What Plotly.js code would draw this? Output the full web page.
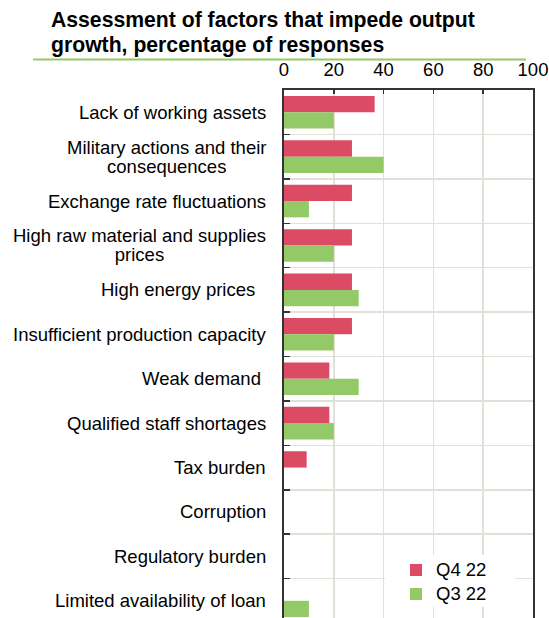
<!DOCTYPE html>
<html>
<head>
<meta charset="utf-8">
<script src="https://cdn.plot.ly/plotly-3.0.1.min.js"></script>
<style>
html,body{margin:0;padding:0;overflow:hidden;background:#fff;}
#chart{width:549px;height:640px;}
</style>
</head>
<body>
<div id="chart"></div>
<script>
// ---- data ----
var categories = [
  "Lack of working assets",
  "Military actions and their<br>consequences",
  "Exchange rate fluctuations",
  "High raw material and supplies<br>prices",
  "High energy prices\u00a0\u00a0",
  "Insufficient production capacity",
  "Weak demand\u00a0",
  "Qualified staff shortages",
  "Tax burden",
  "Corruption",
  "Regulatory burden",
  "Limited availability of loan"
];
var q4Values = [36.4, 27.3, 27.3, 27.3, 27.3, 27.3, 18.2, 18.2, 9.1, 0, 0, 0];
var q3Values = [20, 40, 10, 20, 30, 20, 30, 20, 0, 0, 0, 10];
var seriesNames = ["Q4 22", "Q3 22"];
var xTicks = [0, 20, 40, 60, 80, 100];
var titleLines = ["Assessment of factors that impede output", "growth, percentage of responses"];

// ---- style ----
var FONT = "Liberation Sans, Arial, sans-serif";
var RED = "#dc4b64", GREEN = "#93c966", GRID = "#e1e1d8", AXIS = "#333333";
var LABEL_SIZE = 18.5, LINE_GAP = 19;
var PLOT_TOP = 90, PLOT_BOTTOM = 623, PLOT_H = PLOT_BOTTOM - PLOT_TOP;
function py(px) { return (PLOT_BOTTOM - px) / PLOT_H; }
function px(x) { return (x - 284) / 249; }

function wrapLines(s, size) {
  return s.split("<br>").map(function (l) {
    return "<span style='font-size:" + size + "px'>" + l + "</span>";
  }).join("<br>");
}

var traces = [
  {type: "bar", orientation: "h", name: wrapLines(seriesNames[0], LABEL_SIZE), y: categories, x: q4Values,
   marker: {color: RED}, hoverinfo: "skip"},
  {type: "bar", orientation: "h", name: wrapLines(seriesNames[1], LABEL_SIZE), y: categories, x: q3Values,
   marker: {color: GREEN}, hoverinfo: "skip"}
];

var annotations = categories.map(function (c) {
  return {
    xref: "paper", yref: "y", x: px(268), y: c,
    xanchor: "right", yanchor: "middle", align: "center",
    text: wrapLines(c, LABEL_SIZE), showarrow: false,
    font: {family: FONT, size: LINE_GAP / 1.3, color: "#000"}
  };
});
var titleCenters = [20.1, 45.3];
titleLines.forEach(function (t, i) {
  annotations.push({
    xref: "paper", yref: "paper", x: px(49), y: py(titleCenters[i]),
    xanchor: "left", yanchor: "middle", align: "left",
    text: "<b>" + t + "</b>", showarrow: false,
    font: {family: FONT, size: 21.2, color: "#000"}
  });
});

var layout = {
  width: 549, height: 640,
  margin: {l: 284, r: 16, t: PLOT_TOP, b: 640 - PLOT_BOTTOM},
  paper_bgcolor: "#fff", plot_bgcolor: "#fff",
  font: {family: FONT, size: LABEL_SIZE, color: "#000"},
  barmode: "group", bargap: 0.266, bargroupgap: 0,
  showlegend: true,
  legend: {
    x: px(396), xanchor: "left",
    y: py(553), yanchor: "top",
    bgcolor: "rgba(255,255,255,0)", borderwidth: 0,
    font: {family: FONT, size: 16.16, color: "#000"},
    traceorder: "normal", itemclick: false
  },
  xaxis: {
    side: "top", range: [0, 100], tickvals: xTicks, ticktext: xTicks.map(String),
    showgrid: true, gridcolor: GRID, gridwidth: 1.5,
    showline: true, linecolor: AXIS, linewidth: 2, mirror: true,
    ticks: "inside", ticklen: 4, tickcolor: AXIS, tickwidth: 1.5,
    ticklabelstandoff: 5,
    tickfont: {family: FONT, size: LABEL_SIZE, color: "#000"},
    zeroline: false, fixedrange: true, automargin: false
  },
  yaxis: {
    type: "category", autorange: "reversed",
    tickson: "boundaries", showticklabels: false,
    showgrid: true, gridcolor: GRID, gridwidth: 1.5,
    showline: true, linecolor: AXIS, linewidth: 2, mirror: true,
    ticks: "inside", ticklen: 6, tickcolor: AXIS, tickwidth: 1.5,
    zeroline: false, fixedrange: true, automargin: false
  },
  shapes: [
    {type: "line", xref: "paper", yref: "paper",
     x0: px(33), x1: px(526), y0: py(59.5), y1: py(59.5),
     line: {color: GREEN, width: 2}},
    // white background panel behind the legend (covers gridlines as in the original)
    {type: "rect", xref: "paper", yref: "paper", layer: "above",
     x0: px(385), x1: px(515), y0: py(607), y1: py(555),
     fillcolor: "#fff", line: {width: 0}}
  ],
  annotations: annotations
};

Plotly.newPlot("chart", traces, layout, {displayModeBar: false, staticPlot: true});
</script>
</body>
</html>
